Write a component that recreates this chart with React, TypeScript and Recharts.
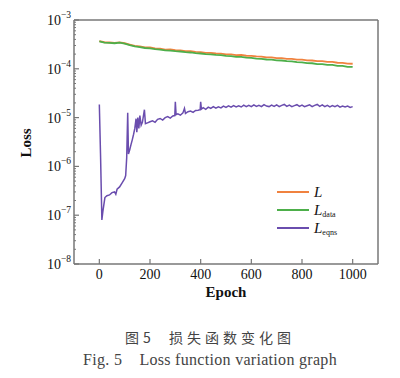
import { LineChart, Line, XAxis, YAxis, ReferenceLine } from 'recharts';

// epochs shared by L and L_data
const epochs = [
  0, 20, 40, 60, 80, 100, 120, 140, 160, 180, 200, 220, 240, 260, 280, 300, 320, 340, 360, 380,
  400, 420, 440, 460, 480, 500, 520, 540, 560, 580, 600, 620, 640, 660, 680, 700, 720, 740, 760,
  780, 800, 820, 840, 860, 880, 900, 920, 940, 960, 980, 1000,
];

// values in units of 1e-4
const lossTotal = [
  3.7, 3.5, 3.46, 3.4, 3.48, 3.34, 3.14, 2.94, 2.88, 2.75, 2.73, 2.61, 2.59, 2.48, 2.49, 2.4,
  2.39, 2.31, 2.29, 2.22, 2.2, 2.13, 2.12, 2.06, 2.05, 1.98, 1.97, 1.91, 1.92, 1.85, 1.84, 1.79,
  1.78, 1.72, 1.72, 1.66, 1.66, 1.6, 1.6, 1.54, 1.54, 1.49, 1.48, 1.43, 1.43, 1.38, 1.38, 1.33,
  1.32, 1.28, 1.27,
];

const lossData = [
  3.64, 3.44, 3.4, 3.34, 3.43, 3.28, 3.06, 2.88, 2.79, 2.67, 2.62, 2.53, 2.48, 2.39, 2.36, 2.3,
  2.26, 2.19, 2.16, 2.09, 2.06, 2.0, 1.98, 1.92, 1.9, 1.84, 1.82, 1.76, 1.75, 1.69, 1.67, 1.62,
  1.6, 1.55, 1.54, 1.49, 1.48, 1.43, 1.42, 1.37, 1.36, 1.31, 1.3, 1.25, 1.25, 1.2, 1.2, 1.15,
  1.15, 1.1, 1.09,
];

// L_eqns has its own (irregular) epochs
const eqnsEpochs = [
  0, 5, 10, 14, 22, 30, 40, 50, 60, 65, 70, 80, 90, 100, 104, 108, 112, 115, 120, 125, 130, 135,
  140, 145, 148, 152, 156, 160, 165, 170, 178, 182, 190, 200, 210, 220, 230, 240, 250, 260, 270,
  280, 290, 298, 300, 303, 310, 320, 330, 336, 340, 350, 360, 370, 380, 390, 398, 400, 403, 410,
  420, 430, 440, 450, 460, 470, 480, 490, 500, 510, 520, 530, 540, 550, 560, 570, 580, 590, 600,
  610, 620, 630, 640, 650, 660, 670, 680, 690, 700, 710, 720, 730, 740, 750, 760, 770, 780, 790,
  800, 810, 820, 830, 840, 850, 860, 870, 880, 890, 900, 910, 920, 930, 940, 950, 960, 970, 980,
  990, 1000,
];

const lossEqns = [
  1.85e-5, 1.5e-6, 8e-8, 1.2e-7, 2.3e-7, 2.5e-7, 2.6e-7, 2.9e-7, 3.0e-7, 2.7e-7, 3.4e-7, 3.8e-7,
  4.6e-7, 5.6e-7, 6.5e-7, 1.5e-6, 1.25e-5, 1.8e-6, 2.2e-6, 2.8e-6, 3.5e-6, 4.5e-6, 6e-6, 9.5e-6,
  5e-6, 1.0e-5, 6e-6, 1.1e-5, 7e-6, 8e-6, 1.45e-5, 7.5e-6, 7.8e-6, 8.2e-6, 8.6e-6, 8.0e-6, 9.2e-6,
  9.6e-6, 8.9e-6, 1.0e-5, 1.05e-5, 9.8e-6, 1.08e-5, 1.1e-5, 2.1e-5, 1.15e-5, 1.2e-5, 1.12e-5,
  1.25e-5, 1.55e-5, 1.22e-5, 1.32e-5, 1.36e-5, 1.28e-5, 1.4e-5, 1.42e-5, 1.45e-5, 2.1e-5, 1.5e-5,
  1.6e-5, 1.48e-5, 1.64e-5, 1.54e-5, 1.68e-5, 1.56e-5, 1.66e-5, 1.58e-5, 1.72e-5, 1.62e-5, 1.74e-5,
  1.64e-5, 1.76e-5, 1.66e-5, 1.74e-5, 1.65e-5, 1.8e-5, 1.68e-5, 1.78e-5, 1.68e-5, 1.82e-5, 1.7e-5,
  1.78e-5, 1.68e-5, 1.84e-5, 1.72e-5, 1.68e-5, 1.8e-5, 1.7e-5, 1.82e-5, 1.68e-5, 1.78e-5, 1.86e-5,
  1.7e-5, 1.8e-5, 1.68e-5, 1.76e-5, 1.84e-5, 1.7e-5, 1.8e-5, 1.68e-5, 1.75e-5, 1.82e-5, 1.68e-5,
  1.78e-5, 1.86e-5, 1.7e-5, 1.82e-5, 1.68e-5, 1.78e-5, 1.66e-5, 1.76e-5, 1.68e-5, 1.78e-5, 1.64e-5,
  1.72e-5, 1.66e-5, 1.72e-5, 1.62e-5, 1.68e-5,
];

const xTicks = [0, 200, 400, 600, 800, 1000];
const yExponents = [-8, -7, -6, -5, -4, -3];

const COLOR_L = '#F0823F';
const COLOR_DATA = '#4DAF4A';
const COLOR_EQNS = '#6A4DAE';
const AXIS = '#777';
const FONT = '"Liberation Serif", "Times New Roman", serif';

const mainData = epochs.map((e, i) => ({ epoch: e, L: lossTotal[i] * 1e-4, Ldata: lossData[i] * 1e-4 }));
const eqnsData = eqnsEpochs.map((e, i) => ({ epoch: e, Leqns: lossEqns[i] }));

// major decade ticks plus minor 2..9 ticks
const yTicks: number[] = [];
yExponents.forEach((p) => {
  yTicks.push(Math.pow(10, p));
  if (p < -3) for (let m = 2; m <= 9; m++) yTicks.push(m * Math.pow(10, p));
});

const YTick = (props: any) => {
  const { x, y, payload } = props;
  const lg = Math.log10(payload.value);
  const exp = Math.round(lg);
  const major = Math.abs(lg - exp) < 1e-6;
  if (!major) {
    return <line x1={x} x2={x + 2} y1={y} y2={y} stroke={AXIS} strokeWidth={1} />;
  }
  return (
    <g>
      <line x1={x} x2={x + 5} y1={y} y2={y} stroke={AXIS} strokeWidth={1.2} />
      <text x={x - 3} y={y + 5} textAnchor="end" fontFamily={FONT} fontSize={14} fill="#111">
        10
        <tspan dy={-7} fontSize={9.5}>{'\u2212' + -exp}</tspan>
      </text>
    </g>
  );
};

const XTick = (props: any) => {
  const { x, y, payload } = props;
  return (
    <g>
      <line x1={x} x2={x} y1={y} y2={y - 5} stroke={AXIS} strokeWidth={1.2} />
      <text x={x} y={y + 15} textAnchor="middle" fontFamily={FONT} fontSize={14} fill="#111">
        {payload.value}
      </text>
    </g>
  );
};

const legendItems = [
  { color: COLOR_L, sub: '' },
  { color: COLOR_DATA, sub: 'data' },
  { color: COLOR_EQNS, sub: 'eqns' },
];

const LegendBox = () => (
  <div style={{ position: 'absolute', left: 277, top: 183, fontFamily: FONT }}>
    {legendItems.map((it) => (
      <div key={it.sub} style={{ display: 'flex', alignItems: 'center', height: 18 }}>
        <div style={{ width: 32, height: 2, background: it.color, marginRight: 5 }} />
        <span style={{ fontSize: 15, fontStyle: 'italic', color: '#111' }}>L</span>
        {it.sub && <span style={{ fontSize: 8, color: '#111', marginTop: 8 }}>{it.sub}</span>}
      </div>
    ))}
  </div>
);

export default function App() {
  return (
    <div style={{ position: 'absolute', left: 0, top: 0, width: 400, height: 378, background: '#fff' }}>
      <LineChart width={400} height={310} margin={{ top: 20, right: 22, left: 14, bottom: 16 }}>
        <XAxis
          xAxisId="main"
          dataKey="epoch"
          type="number"
          domain={[-100, 1100]}
          ticks={xTicks}
          interval={0}
          height={30}
          tickSize={0}
          tickMargin={0}
          tick={<XTick />}
          axisLine={{ stroke: AXIS, strokeWidth: 1.5 }}
          allowDuplicatedCategory={false}
        />
        <YAxis
          yAxisId="main"
          scale="log"
          type="number"
          domain={[1e-8, 1e-3]}
          ticks={yTicks}
          interval={0}
          allowDataOverflow
          width={60}
          tickSize={0}
          tickMargin={0}
          tick={<YTick />}
          axisLine={{ stroke: AXIS, strokeWidth: 1.5 }}
        />
        <ReferenceLine xAxisId="main" yAxisId="main" y={1e-3} stroke={AXIS} strokeWidth={1.5} />
        <ReferenceLine xAxisId="main" yAxisId="main" x={1100} stroke={AXIS} strokeWidth={1.5} />
        <Line
          xAxisId="main"
          yAxisId="main"
          data={mainData}
          dataKey="L"
          stroke={COLOR_L}
          strokeWidth={1.8}
          dot={false}
          isAnimationActive={false}
        />
        <Line
          xAxisId="main"
          yAxisId="main"
          data={mainData}
          dataKey="Ldata"
          stroke={COLOR_DATA}
          strokeWidth={1.8}
          dot={false}
          isAnimationActive={false}
        />
        <Line
          xAxisId="main"
          yAxisId="main"
          data={eqnsData}
          dataKey="Leqns"
          stroke={COLOR_EQNS}
          strokeWidth={1.5}
          dot={false}
          isAnimationActive={false}
        />
      </LineChart>
      <LegendBox />
      <div
        style={{
          position: 'absolute', left: 26, top: 143, transform: 'translate(-50%, -50%) rotate(-90deg)',
          fontFamily: FONT, fontSize: 15, fontWeight: 'bold', color: '#111',
        }}
      >
        Loss
      </div>
      <div
        style={{
          position: 'absolute', left: 226, top: 292, transform: 'translate(-50%, -50%)',
          fontFamily: FONT, fontSize: 15, fontWeight: 'bold', color: '#111',
        }}
      >
        Epoch
      </div>
      <div
        style={{
          position: 'absolute', left: 0, width: 420, top: 327, textAlign: 'center',
          fontFamily: '"Noto Sans CJK SC", sans-serif', fontSize: 14, color: '#444', letterSpacing: 4,
        }}
      >
        图5&nbsp;&nbsp;损失函数变化图
      </div>
      <div
        style={{
          position: 'absolute', left: 0, width: 420, top: 351, textAlign: 'center',
          fontFamily: FONT, fontSize: 16, color: '#444', letterSpacing: 0.3,
        }}
      >
        Fig. 5&nbsp;&nbsp;&nbsp;&nbsp;Loss function variation graph
      </div>
    </div>
  );
}
